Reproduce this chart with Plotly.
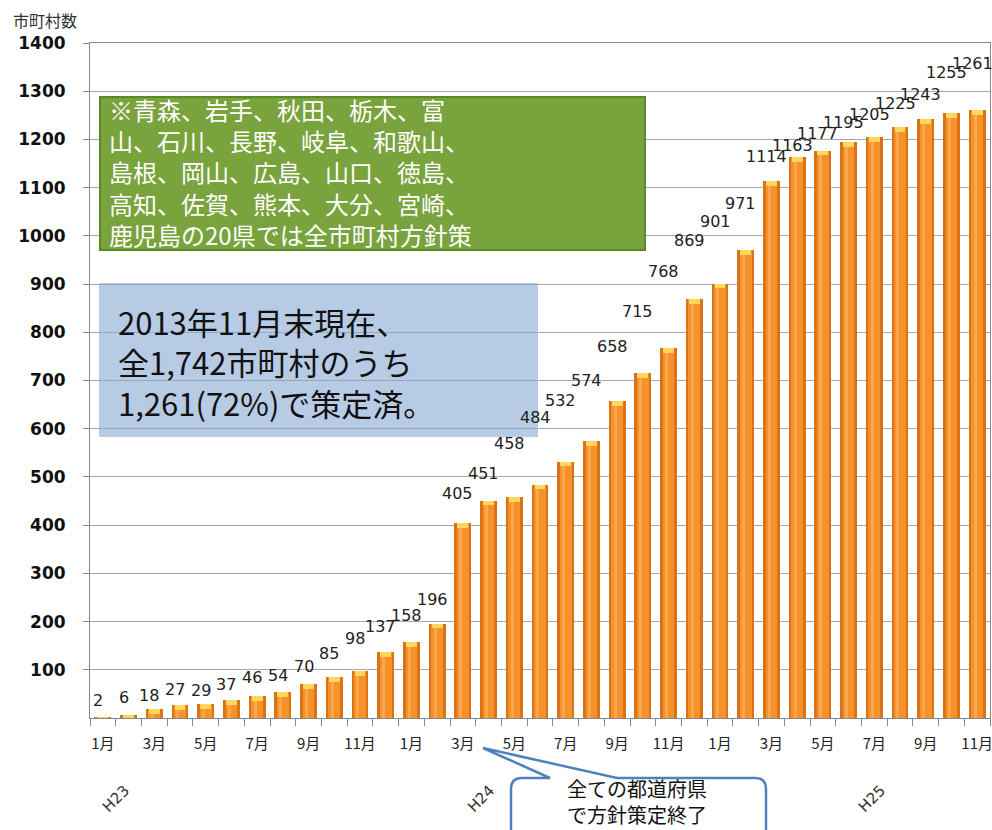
import plotly.graph_objects as go

# ---------------- data ----------------
month_labels = (
    [f"{m}月" for m in range(1, 13)]      # H23 (2011)
    + [f"{m}月" for m in range(1, 13)]    # H24 (2012)
    + [f"{m}月" for m in range(1, 12)]    # H25 (2013)
)
counts = [2, 6, 18, 27, 29, 37, 46, 54, 70, 85, 98, 137,
          158, 196, 405, 451, 458, 484, 532, 574, 658, 715, 768, 869,
          901, 971, 1114, 1163, 1177, 1195, 1205, 1225, 1243, 1255, 1261]
eras = ["H23", "H24", "H25"]
y_axis_title = "市町村数"
note_green = ("※青森、岩手、秋田、栃木、富<br>山、石川、長野、岐阜、和歌山、<br>"
              "島根、岡山、広島、山口、徳島、<br>高知、佐賀、熊本、大分、宮崎、<br>"
              "鹿児島の20県では全市町村方針策")
note_blue = "2013年11月末現在、<br>全1,742市町村のうち<br>1,261(72%)で策定済。"
callout_text = "全ての都道府県<br>で方針策定終了"

# ---------------- styling (label placement, in pixels) ----------------
era_index = [0.5, 14.7, 29.9]
label_lift = [17, 18, 14, 15, 14, 16, 18, 16, 18, 24, 32, 25,
              26, 24, 29, 27, 54, 67, 61, 61, 54, 62, 76, 59,
              62, 46, 24, 12, 17, 19, 23, 24, 24, 40, 47]

# ---------------- layout helpers ----------------
W, H = 992, 830
ML, MR, MT, MB = 90, 2, 43, 112
PW, PH = W - ML - MR, H - MT - MB


def px(xp):
    return (xp - ML) / PW


def py(yp):
    return (MT + PH - yp) / PH


CJK = "Noto Sans CJK JP"
x = list(range(len(counts)))
xr = [-0.5, len(counts) - 0.5]

fig = go.Figure()
# cylinder-like bars built from overlaid layers
fig.add_trace(go.Bar(x=x, y=counts, width=0.66, marker=dict(color="#D8731A", line=dict(width=0)),
                     hoverinfo="skip"))
fig.add_trace(go.Bar(x=x, y=counts, width=0.46, marker=dict(color="#F7922A", line=dict(width=0)),
                     hoverinfo="skip"))
fig.add_trace(go.Bar(x=x, y=counts, width=0.12, offset=-0.14,
                     marker=dict(color="#FAA850", line=dict(width=0)), hoverinfo="skip"))
cap_h = [min(v, 10) for v in counts]
cap_base = [v - c for v, c in zip(counts, cap_h)]
fig.add_trace(go.Bar(x=x, y=cap_h, base=cap_base, width=0.42,
                     marker=dict(color="#FFD75A", line=dict(width=0)), hoverinfo="skip"))
# invisible trace for the boundary tick axis
fig.add_trace(go.Scatter(x=[0], y=[0], xaxis="x2", mode="markers",
                         marker=dict(opacity=0), hoverinfo="skip", showlegend=False))

annotations = []
for i, v in enumerate(counts):
    annotations.append(dict(x=i, y=v, xref="x", yref="y", text=str(v), showarrow=False,
                            yshift=label_lift[i], xshift=-5, yanchor="middle",
                            font=dict(family="DejaVu Sans", size=16, color="#222")))

for e, xi in zip(eras, era_index):
    annotations.append(dict(x=xi, y=py(799), xref="x", yref="paper", text=e, showarrow=False,
                            textangle=-45, xanchor="center", yanchor="middle",
                            font=dict(family="DejaVu Sans", size=15, color="#333")))

annotations.append(dict(x=px(11), y=py(20), xref="paper", yref="paper", text=y_axis_title,
                        showarrow=False, xanchor="left", yanchor="middle",
                        font=dict(family=CJK, size=16, color="#333")))
annotations.append(dict(x=px(107), y=py(172), xref="paper", yref="paper", text=note_green,
                        showarrow=False, xanchor="left", yanchor="middle", align="left",
                        font=dict(family=CJK, size=24, color="white")))
annotations.append(dict(x=px(116), y=py(362), xref="paper", yref="paper", text=note_blue,
                        showarrow=False, xanchor="left", yanchor="middle", align="left",
                        font=dict(family=CJK, size=31, color="#111")))
annotations.append(dict(x=px(637), y=py(801), xref="paper", yref="paper", text=callout_text,
                        showarrow=False, xanchor="center", yanchor="middle", align="center",
                        font=dict(family=CJK, size=20, color="#111")))

# callout bubble path (in paper coords)
r = 11
bx0, bx1, by0, by1 = 511, 766, 778, 850
pts_path = (
    f"M {px(bx0 + r)},{py(by0)} L {px(550)},{py(by0)} L {px(483)},{py(748)} "
    f"L {px(617)},{py(by0)} L {px(bx1 - r)},{py(by0)} "
    f"Q {px(bx1)},{py(by0)} {px(bx1)},{py(by0 + r)} L {px(bx1)},{py(by1)} "
    f"L {px(bx0)},{py(by1)} L {px(bx0)},{py(by0 + r)} "
    f"Q {px(bx0)},{py(by0)} {px(bx0 + r)},{py(by0)} Z"
)

shapes = [
    dict(type="rect", xref="paper", yref="paper", x0=px(100), x1=px(645), y0=py(250), y1=py(97),
         fillcolor="#79A33D", line=dict(color="#5A8A28", width=2)),
    dict(type="rect", xref="paper", yref="paper", x0=px(99), x1=px(538), y0=py(437), y1=py(283),
         fillcolor="rgba(135,168,212,0.6)", line=dict(width=0)),
    dict(type="path", xref="paper", yref="paper", path=pts_path,
         fillcolor="white", line=dict(color="#4F81BD", width=2.5)),
]

fig.update_layout(
    width=W, height=H,
    margin=dict(l=ML, r=MR, t=MT, b=MB, autoexpand=False),
    paper_bgcolor="white", plot_bgcolor="white",
    barmode="overlay", bargap=0, showlegend=False,
    annotations=annotations, shapes=shapes,
    xaxis=dict(range=xr, autorange=False, tickvals=x[::2], ticktext=month_labels[::2],
               ticks="", showgrid=False, zeroline=False, showline=True, linecolor="#888",
               mirror=True, ticklabelstandoff=12, automargin=False,
               ticklabeloverflow="allow",
               tickfont=dict(family=CJK, size=15, color="#222")),
    xaxis2=dict(overlaying="x", anchor="y", side="bottom", range=xr, autorange=False,
                tickvals=[i - 0.5 for i in range(len(counts) + 1)], ticks="outside",
                ticklen=7, tickcolor="#888", showticklabels=False, showgrid=False,
                zeroline=False, showline=False, automargin=False),
    yaxis=dict(range=[0, 1400], autorange=False, tickvals=list(range(100, 1401, 100)),
               ticks="outside", ticklen=6, tickcolor="#888", gridcolor="#A8A8A8",
               showline=True, linecolor="#888", mirror=True, zeroline=False,
               ticklabelstandoff=14, automargin=False,
               tickfont=dict(family="DejaVu Sans", size=17, color="#111", weight="bold")),
)

fig.write_html("out.html", config={"displayModeBar": False},
               post_script="document.body.style.margin='0';")
